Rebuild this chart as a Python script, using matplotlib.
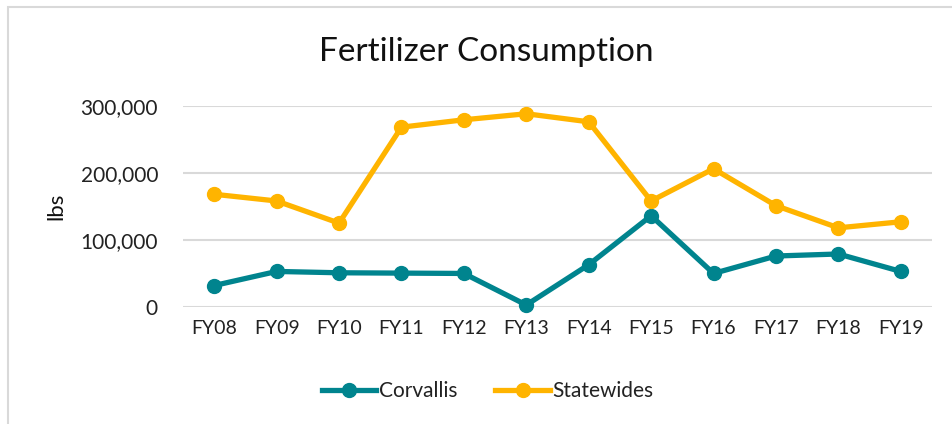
import matplotlib
matplotlib.use("Agg")
import matplotlib.pyplot as plt
from matplotlib.patches import Rectangle
from matplotlib.ticker import FuncFormatter

categories = ["FY08", "FY09", "FY10", "FY11", "FY12", "FY13", "FY14", "FY15", "FY16", "FY17", "FY18", "FY19"]
corvallis = [32000, 53000, 51000, 50500, 50000, 3000, 63000, 136000, 50000, 76000, 79000, 53000]
statewides = [168000, 158000, 125000, 268000, 279000, 288000, 276000, 158000, 206000, 151000, 118000, 127000]
yticks = [0, 100000, 200000, 300000]

plt.rcParams['font.family'] = ['Lato', 'DejaVu Sans']

fig = plt.figure(figsize=(9.52, 4.24), dpi=100)
fig.patches.append(Rectangle((8/952, -0.1), 1.2, (424-7)/424 + 0.1, transform=fig.transFigure,
                             fill=False, edgecolor='#d9d9d9', linewidth=1.5))

ax = fig.add_axes([183/952, (424-307)/424, (932-183)/952, (307-105.7)/424])
x = list(range(len(categories)))
teal = '#00848E'
gold = '#FFB400'
ax.plot(x, corvallis, color=teal, lw=3.8, marker='o', ms=10, label='Corvallis', clip_on=False, zorder=3)
ax.plot(x, statewides, color=gold, lw=3.8, marker='o', ms=10, label='Statewides', clip_on=False, zorder=3)

ax.set_xlim(-0.5, len(categories) - 0.5)
ax.set_ylim(0, 300000)
ax.set_yticks(yticks)
ax.yaxis.set_major_formatter(FuncFormatter(lambda v, p: f"{int(v):,}"))
ax.set_xticks(x)
ax.set_xticklabels(categories)
ax.grid(axis='y', color='#d9d9d9', lw=1.5)
ax.set_axisbelow(True)
for s in ax.spines.values():
    s.set_visible(False)
ax.tick_params(axis='both', length=0, colors='#222222')
ax.tick_params(axis='y', pad=18, labelsize=15)
ax.tick_params(axis='x', pad=9, labelsize=14)
ax.set_ylabel('lbs', fontsize=16, color='#111111', labelpad=10)

fig.text(486/952, 1 - 52/424, 'Fertilizer Consumption', ha='center', va='center', fontsize=24, color='#111111')

leg = fig.legend(loc='center', bbox_to_anchor=(488/952, 1 - 391/424), ncol=2, frameon=False,
                 fontsize=15, handlelength=2.6, handletextpad=0.15, columnspacing=1.8)
for t in leg.get_texts():
    t.set_color('#222222')

fig.savefig('out.png', dpi=100)
